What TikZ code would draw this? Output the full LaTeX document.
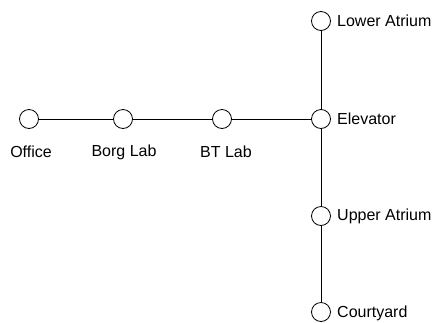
\documentclass[tikz,border=0pt]{standalone}
\usepackage{fontspec}
\setmainfont{Liberation Sans}
\begin{document}
\begin{tikzpicture}[x=1pt,y=-1pt,
  place/.style={circle,draw,line width=0.8pt,minimum size=19pt,inner sep=0pt,fill=white},
  lbl/.style={inner sep=0pt,font=\fontsize{16}{19}\selectfont},
  link/.style={line width=0.8pt}]
\useasboundingbox (0,0) rectangle (436,322);
\node[place] (office) at (29,119) {};
\node[place] (borg) at (123,119) {};
\node[place] (bt) at (222,119) {};
\node[place] (elev) at (321,119) {};
\node[place] (lower) at (321,21) {};
\node[place] (upper) at (321,216) {};
\node[place] (court) at (321,312) {};
\draw[link] (office) -- (borg);
\draw[link] (borg) -- (bt);
\draw[link] (bt) -- (elev);
\draw[link] (lower) -- (elev);
\draw[link] (elev) -- (upper);
\draw[link] (upper) -- (court);
\node[lbl] (tOffice) at (31,152) {Office};
\node[lbl] (tBorg) at (124,152) {Borg Lab};
\node[lbl] (tBT) at (226,152) {BT Lab};
\node[lbl,anchor=west] (tElev) at (337,119) {Elevator};
\node[lbl,anchor=west] (tLower) at (337,21) {Lower Atrium};
\node[lbl,anchor=west] (tUpper) at (337,216) {Upper Atrium};
\node[lbl,anchor=west] (tCourt) at (337,313) {Courtyard};
\end{tikzpicture}
\end{document}
